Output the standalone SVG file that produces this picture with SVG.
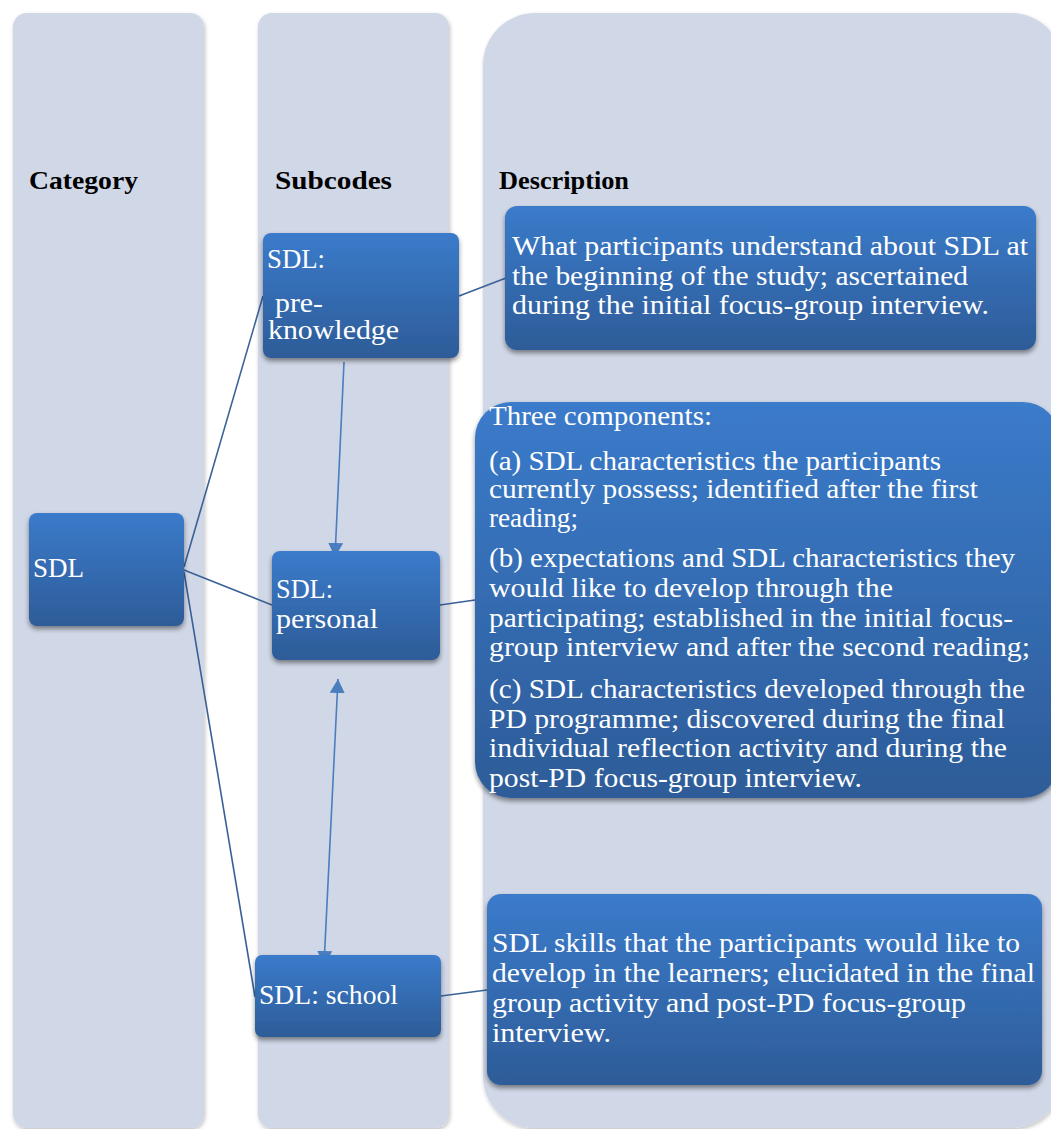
<svg xmlns="http://www.w3.org/2000/svg" width="1051" height="1129" viewBox="0 0 1051 1129">
  <style>
    .col { fill: #d0d7e6; filter: url(#colShadow); }
    .node { fill: url(#nodeGrad); filter: url(#nodeShadow); }
    .hdr { font-family: "Liberation Serif", "Times New Roman", serif; font-weight: bold; font-size: 26px; fill: #000; }
    .txt { font-family: "Liberation Serif", "Times New Roman", serif; font-size: 27px; fill: #ffffff; }
    .link { stroke: #3a6197; stroke-width: 1.6; fill: none; }
    .arrow { stroke: #4a7ebf; stroke-width: 1.6; fill: none; }
  </style>
  <defs>
    <linearGradient id="nodeGrad" x1="0" y1="0" x2="0" y2="1">
      <stop offset="0" stop-color="#3b7bcb"/>
      <stop offset="1" stop-color="#2d5c98"/>
    </linearGradient>
    <filter id="nodeShadow" x="-10%" y="-10%" width="120%" height="130%">
      <feGaussianBlur in="SourceAlpha" stdDeviation="2.5"/>
      <feOffset dx="0" dy="3" result="b"/>
      <feComponentTransfer><feFuncA type="linear" slope="0.45"/></feComponentTransfer>
      <feMerge><feMergeNode/><feMergeNode in="SourceGraphic"/></feMerge>
    </filter>
    <filter id="colShadow" x="-10%" y="-5%" width="120%" height="110%">
      <feGaussianBlur in="SourceAlpha" stdDeviation="2"/>
      <feOffset dx="1" dy="2" result="b"/>
      <feComponentTransfer><feFuncA type="linear" slope="0.25"/></feComponentTransfer>
      <feMerge><feMergeNode/><feMergeNode in="SourceGraphic"/></feMerge>
    </filter>
    <marker id="head" markerUnits="userSpaceOnUse" markerWidth="16" markerHeight="16" refX="14" refY="7.5" orient="auto-start-reverse">
      <path d="M0,0 L14,7.5 L0,15 z" fill="#4a7ebf"/>
    </marker>
  </defs>

  <!-- background columns -->
  <g id="columns">
    <rect id="col-category" class="col" x="13" y="13" width="191" height="1115" rx="14"/>
    <rect id="col-subcodes" class="col" x="258" y="13" width="191" height="1115" rx="14"/>
    <rect id="col-description" class="col" x="483" y="13" width="580" height="1115" rx="52"/>
  </g>

  <!-- column headings -->
  <g id="headings">
    <text class="hdr" x="29" y="189" textLength="109" lengthAdjust="spacingAndGlyphs">Category</text>
    <text class="hdr" x="275" y="189" textLength="117" lengthAdjust="spacingAndGlyphs">Subcodes</text>
    <text class="hdr" x="499" y="189" textLength="130" lengthAdjust="spacingAndGlyphs">Description</text>
  </g>

  <!-- connectors -->
  <g id="connectors">
    <line class="link" x1="184" y1="567" x2="263" y2="296"/>
    <line class="link" x1="184" y1="570" x2="272" y2="605"/>
    <line class="link" x1="184" y1="572" x2="255" y2="997"/>
    <line class="link" x1="459" y1="296" x2="506" y2="278"/>
    <line class="link" x1="440" y1="605" x2="475" y2="600"/>
    <line class="link" x1="441" y1="996" x2="487" y2="990"/>
    <line class="arrow" x1="344" y1="362" x2="335" y2="557" marker-end="url(#head)"/>
    <line class="arrow" x1="338" y1="679" x2="324" y2="965" marker-start="url(#head)" marker-end="url(#head)"/>
  </g>

  <!-- category node -->
  <g id="node-sdl">
    <rect class="node" x="29" y="513" width="155" height="113" rx="8"/>
    <text class="txt" x="33" y="577" textLength="51" lengthAdjust="spacingAndGlyphs">SDL</text>
  </g>

  <!-- subcode nodes -->
  <g id="node-preknowledge">
    <rect class="node" x="263" y="233" width="196" height="125" rx="8"/>
    <text class="txt" x="267" y="268" textLength="58" lengthAdjust="spacingAndGlyphs">SDL:</text>
    <text class="txt" x="275" y="312" textLength="48" lengthAdjust="spacingAndGlyphs">pre-</text>
    <text class="txt" x="268" y="339" textLength="131" lengthAdjust="spacingAndGlyphs">knowledge</text>
  </g>

  <g id="node-personal">
    <rect class="node" x="272" y="551" width="168" height="109" rx="8"/>
    <text class="txt" x="276" y="598" textLength="57" lengthAdjust="spacingAndGlyphs">SDL:</text>
    <text class="txt" x="276" y="628" textLength="102" lengthAdjust="spacingAndGlyphs">personal</text>
  </g>

  <g id="node-school">
    <rect class="node" x="255" y="955" width="186" height="82" rx="7"/>
    <text class="txt" x="259" y="1004" textLength="139" lengthAdjust="spacingAndGlyphs">SDL: school</text>
  </g>

  <!-- description nodes -->
  <g id="desc-preknowledge">
    <rect class="node" x="505" y="206" width="531" height="144" rx="12"/>
    <text class="txt" x="512" y="255" textLength="516" lengthAdjust="spacingAndGlyphs">What participants understand about SDL at</text>
    <text class="txt" x="512" y="285" textLength="456" lengthAdjust="spacingAndGlyphs">the beginning of the study; ascertained</text>
    <text class="txt" x="512" y="314" textLength="477" lengthAdjust="spacingAndGlyphs">during the initial focus-group interview.</text>
  </g>

  <g id="desc-personal">
    <rect class="node" x="475" y="402" width="584" height="396" rx="36"/>
    <text class="txt" x="489" y="425" textLength="223" lengthAdjust="spacingAndGlyphs">Three components:</text>
    <text class="txt" x="489" y="470" textLength="452" lengthAdjust="spacingAndGlyphs">(a) SDL characteristics the participants</text>
    <text class="txt" x="489" y="498" textLength="489" lengthAdjust="spacingAndGlyphs">currently possess; identified after the first</text>
    <text class="txt" x="489" y="527" textLength="89" lengthAdjust="spacingAndGlyphs">reading;</text>
    <text class="txt" x="489" y="567" textLength="526" lengthAdjust="spacingAndGlyphs">(b) expectations and SDL characteristics they</text>
    <text class="txt" x="489" y="597" textLength="404" lengthAdjust="spacingAndGlyphs">would like to develop through the</text>
    <text class="txt" x="489" y="627" textLength="524" lengthAdjust="spacingAndGlyphs">participating; established in the initial focus-</text>
    <text class="txt" x="489" y="656" textLength="541" lengthAdjust="spacingAndGlyphs">group interview and after the second reading;</text>
    <text class="txt" x="489" y="698" textLength="536" lengthAdjust="spacingAndGlyphs">(c) SDL characteristics developed through the</text>
    <text class="txt" x="489" y="728" textLength="516" lengthAdjust="spacingAndGlyphs">PD programme; discovered during the final</text>
    <text class="txt" x="489" y="757" textLength="518" lengthAdjust="spacingAndGlyphs">individual reflection activity and during the</text>
    <text class="txt" x="489" y="787" textLength="373" lengthAdjust="spacingAndGlyphs">post-PD focus-group interview.</text>
  </g>

  <g id="desc-school">
    <rect class="node" x="487" y="894" width="555" height="191" rx="14"/>
    <text class="txt" x="492" y="952" textLength="528" lengthAdjust="spacingAndGlyphs">SDL skills that the participants would like to</text>
    <text class="txt" x="492" y="982" textLength="543" lengthAdjust="spacingAndGlyphs">develop in the learners; elucidated in the final</text>
    <text class="txt" x="492" y="1012" textLength="474" lengthAdjust="spacingAndGlyphs">group activity and post-PD focus-group</text>
    <text class="txt" x="492" y="1042" textLength="119" lengthAdjust="spacingAndGlyphs">interview.</text>
  </g>
</svg>
